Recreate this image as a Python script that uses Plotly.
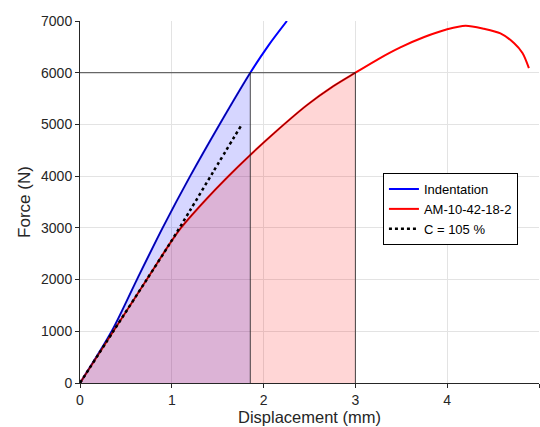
import plotly.graph_objects as go

# Data
blue_x = [0, 0.345, 0.62, 0.90, 1.20, 1.52, 1.855, 2.05, 2.254]
blue_y = [0, 1000, 2000, 3000, 4000, 5000, 6000, 6520, 7000]

red_x = [0, 0.363, 0.727, 0.98, 1.10, 1.36, 1.6, 1.855, 2.11, 2.47, 2.76, 3.0,
         3.25, 3.49, 3.75, 4.0, 4.2, 4.4, 4.58, 4.73, 4.82, 4.89]
red_y = [0, 1000, 2000, 2700, 3000, 3525, 3970, 4410, 4825, 5370, 5740, 6000,
         6265, 6490, 6690, 6840, 6910, 6850, 6760, 6570, 6380, 6090]

dot_x = [0, 0.363, 0.727, 0.98, 1.2, 1.45, 1.763]
dot_y = [0, 1000, 2000, 2700, 3340, 4080, 5000]

blue_limit = 1.855   # displacement where indentation reaches 6000 N
red_limit = 3.0      # displacement where specimen reaches 6000 N
force_level = 6000

names = ["Indentation", "AM-10-42-18-2", "C = 105 %"]

# curve portions under the 6000 N level (used for the shaded areas)
bsx = [x for x in blue_x if x <= blue_limit]
bsy = [y for x, y in zip(blue_x, blue_y) if x <= blue_limit]
rsx = [x for x in red_x if x <= red_limit]
rsy = [y for x, y in zip(red_x, red_y) if x <= red_limit]

SM = 0.8
fig = go.Figure()
fig.add_trace(go.Scatter(x=bsx, y=bsy, fill="tozeroy", fillcolor="rgba(0,0,255,0.16)",
                         line=dict(width=0, shape="spline", smoothing=SM), mode="lines",
                         showlegend=False, hoverinfo="skip"))
fig.add_trace(go.Scatter(x=rsx, y=rsy, fill="tozeroy", fillcolor="rgba(255,0,0,0.16)",
                         line=dict(width=0, shape="spline", smoothing=SM), mode="lines",
                         showlegend=False, hoverinfo="skip"))

fig.add_trace(go.Scatter(x=blue_x, y=blue_y, mode="lines", name=names[0],
                         line=dict(color="rgb(0,0,255)", width=2, shape="spline", smoothing=SM)))
fig.add_trace(go.Scatter(x=red_x, y=red_y, mode="lines", name=names[1],
                         line=dict(color="rgb(255,0,0)", width=2, shape="spline", smoothing=SM)))

# dark outlines of the shaded areas
fig.add_trace(go.Scatter(x=bsx, y=bsy, mode="lines", showlegend=False,
                         line=dict(color="rgba(20,20,60,0.7)", width=1, shape="spline", smoothing=SM),
                         hoverinfo="skip"))
fig.add_trace(go.Scatter(x=rsx, y=rsy, mode="lines", showlegend=False,
                         line=dict(color="rgba(60,10,10,0.75)", width=1, shape="spline", smoothing=SM),
                         hoverinfo="skip"))
fig.add_trace(go.Scatter(x=[blue_limit, blue_limit], y=[0, force_level], mode="lines",
                         showlegend=False, line=dict(color="rgba(30,30,30,0.8)", width=1),
                         hoverinfo="skip"))
fig.add_trace(go.Scatter(x=[red_limit, red_limit], y=[0, force_level], mode="lines",
                         showlegend=False, line=dict(color="rgba(30,30,30,0.8)", width=1),
                         hoverinfo="skip"))
fig.add_trace(go.Scatter(x=[0, red_limit], y=[force_level, force_level], mode="lines",
                         showlegend=False, line=dict(color="rgba(30,30,30,0.8)", width=1),
                         hoverinfo="skip"))

fig.add_trace(go.Scatter(x=dot_x, y=dot_y, mode="lines", name=names[2],
                         line=dict(color="black", width=2.5, dash="dot", shape="spline", smoothing=SM)))

font = "Liberation Sans, Arial, Helvetica, sans-serif"
axis_common = dict(showline=True, linecolor="#262626", linewidth=1, ticks="outside",
                   ticklen=4, tickcolor="#262626", showgrid=True, gridcolor="#e3e3e3",
                   gridwidth=1, zeroline=False, tickfont=dict(size=14, color="#262626", family=font),
                   mirror=False)

fig.update_layout(
    width=540, height=427,
    margin=dict(l=80, r=1, t=21, b=44),
    paper_bgcolor="white", plot_bgcolor="white",
    font=dict(family=font, color="#262626"),
    xaxis=dict(range=[0, 5], dtick=1,
               title=dict(text="Displacement (mm)", font=dict(size=16.5), standoff=2),
               **axis_common),
    yaxis=dict(range=[0, 7000], dtick=1000,
               title=dict(text="Force (N)", font=dict(size=17), standoff=6),
               **axis_common),
    legend=dict(x=0.66, y=0.58, xanchor="left", yanchor="top", bgcolor="white",
                bordercolor="black", borderwidth=1, font=dict(size=13, color="black", family=font),
                tracegroupgap=0, itemwidth=30),
    showlegend=True,
)

fig.write_html("out.html")
